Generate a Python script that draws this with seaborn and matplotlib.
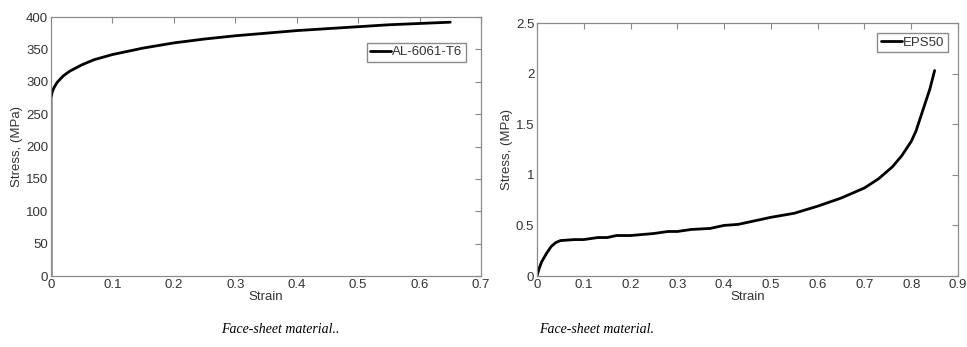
import matplotlib
matplotlib.use("Agg")
import matplotlib.pyplot as plt
import seaborn as sns
import pandas as pd

# AL-6061-T6 stress-strain curve
al_strain = [0, 0, 0.002, 0.005, 0.01, 0.02, 0.03, 0.05, 0.07, 0.1, 0.13, 0.15, 0.2,
             0.25, 0.3, 0.35, 0.4, 0.45, 0.5, 0.55, 0.6, 0.65]
al_stress = [0, 275, 284, 291, 299, 309, 316, 326, 334, 342, 348, 352, 360,
             366, 371, 375, 379, 382, 385, 388, 390, 392]

# EPS50 stress-strain curve
eps_strain = [0, 0.005, 0.01, 0.02, 0.03, 0.04, 0.05, 0.08, 0.1, 0.13, 0.15, 0.17,
              0.2, 0.25, 0.28, 0.3, 0.33, 0.37, 0.4, 0.43, 0.47, 0.5, 0.55, 0.6,
              0.65, 0.7, 0.73, 0.76, 0.78, 0.8, 0.81, 0.82, 0.83, 0.84, 0.85]
eps_stress = [0, 0.08, 0.14, 0.22, 0.29, 0.33, 0.35, 0.36, 0.36, 0.38, 0.38, 0.40,
              0.40, 0.42, 0.44, 0.44, 0.46, 0.47, 0.50, 0.51, 0.55, 0.58, 0.62, 0.69,
              0.77, 0.87, 0.96, 1.08, 1.19, 1.33, 1.43, 1.57, 1.71, 1.85, 2.03]

al_df = pd.DataFrame({"Strain": al_strain, "Stress": al_stress, "mat": "AL-6061-T6"})
eps_df = pd.DataFrame({"Strain": eps_strain, "Stress": eps_stress, "mat": "EPS50"})

sns.set_style("white")
plt.rcParams['font.family'] = ['Liberation Sans', 'DejaVu Sans']

fig = plt.figure(figsize=(9.67, 3.47), dpi=100)
ax1 = fig.add_axes([0.0527, 0.2046, 0.4447, 0.7464])
ax2 = fig.add_axes([0.5553, 0.2046, 0.4354, 0.7291])

grey = "#8a8a8a"
txt = "#333333"
fs = 9.5

def style(ax, df, xlim, xticks, ylim, yticks, anchor):
    sns.lineplot(data=df, x="Strain", y="Stress", hue="mat", palette=["black"],
                 sort=False, linewidth=2.0, ax=ax, estimator=None)
    ax.set_xlim(*xlim)
    ax.set_ylim(*ylim)
    ax.set_xticks(xticks)
    ax.set_yticks(yticks)
    ax.set_xticklabels([f"{t:g}" for t in xticks])
    ax.set_yticklabels([f"{t:g}" for t in yticks])
    ax.tick_params(direction="in", top=True, right=True, length=4, width=0.8,
                   color=grey, labelsize=fs, labelcolor=txt, pad=2)
    for s in ax.spines.values():
        s.set_color(grey)
        s.set_linewidth(0.9)
    ax.set_xlabel("Strain", fontsize=fs, color=txt, labelpad=0)
    ax.set_ylabel("Stress, (MPa)", fontsize=fs, color=txt, labelpad=2)
    leg = ax.legend(loc="upper right", bbox_to_anchor=anchor, fontsize=fs,
                    handlelength=1.6, handletextpad=0.1, borderpad=0.25,
                    fancybox=False, framealpha=1, borderaxespad=0)
    leg.get_frame().set_edgecolor(grey)
    for t in leg.get_texts():
        t.set_color(txt)
    for h in leg.get_lines():
        h.set_linewidth(2.0)

style(ax1, al_df, (0, 0.7), [0, 0.1, 0.2, 0.3, 0.4, 0.5, 0.6, 0.7],
      (0, 400), list(range(0, 401, 50)), (0.965, 0.90))
style(ax2, eps_df, (0, 0.9), [0, 0.1, 0.2, 0.3, 0.4, 0.5, 0.6, 0.7, 0.8, 0.9],
      (0, 2.5), [0, 0.5, 1, 1.5, 2, 2.5], (0.976, 0.96))

fig.text(0.29, 0.049, "Face-sheet material..", ha="center", va="center",
         family="Liberation Serif", style="italic", fontsize=10, color="black")
fig.text(0.617, 0.049, "Face-sheet material.", ha="center", va="center",
         family="Liberation Serif", style="italic", fontsize=10, color="black")

fig.savefig("out.png", dpi=100)
